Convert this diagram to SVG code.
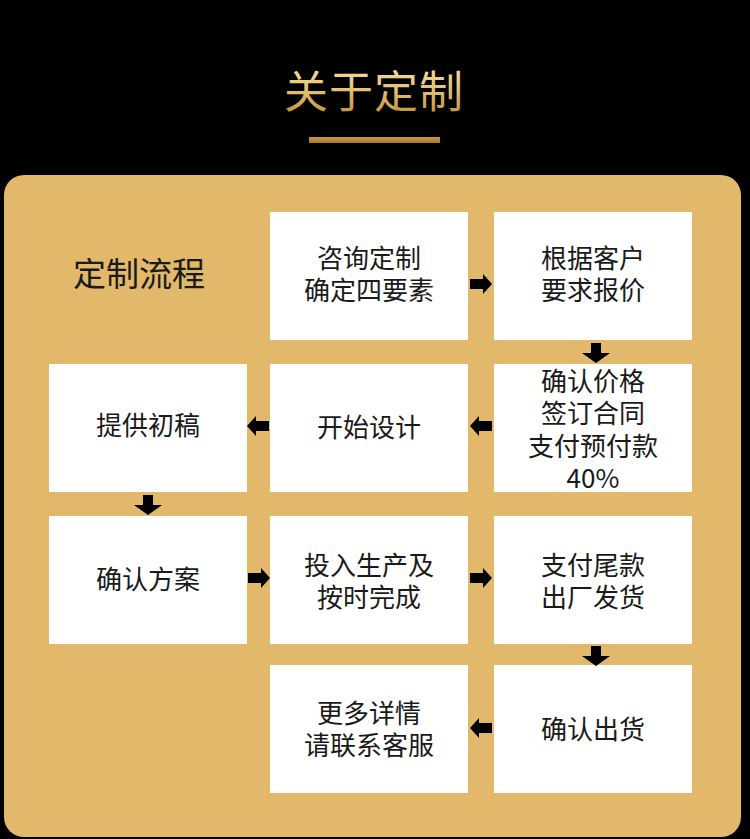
<svg xmlns="http://www.w3.org/2000/svg" width="750" height="839" viewBox="0 0 750 839">
<defs>
<linearGradient id="gold" x1="0" y1="0" x2="0" y2="1">
<stop offset="0" stop-color="#FBEBB4"/>
<stop offset="0.5" stop-color="#E6C274"/>
<stop offset="1" stop-color="#B9862C"/>
</linearGradient>
<linearGradient id="bar" x1="0" y1="0" x2="0" y2="1">
<stop offset="0" stop-color="#C99A3E"/>
<stop offset="1" stop-color="#A9782A"/>
</linearGradient>
<path id="arR" d="M-11,-5 H2 V-10 L11,0 L2,10 V5 H-11 Z" fill="#000"/>
<path id="arD" d="M-5,-10 V0 H-14 L0,10 L14,0 H5 V-10 Z" fill="#000"/>
</defs>
<style>
.box{fill:#FFFFFF}
.t{font-family:"Noto Sans CJK SC","Noto Sans",sans-serif;font-size:26px;fill:#1A1A1A;text-anchor:middle;dominant-baseline:central}
</style>
<rect x="0" y="0" width="750" height="839" fill="#000"/>
<g id="title">
<text x="374" y="89" font-family="'Noto Sans CJK SC',sans-serif" font-size="44" fill="url(#gold)" text-anchor="middle" dominant-baseline="central" letter-spacing="1">关于定制</text>
<rect x="309" y="137" width="131" height="6" fill="url(#bar)"/>
</g>
<rect id="panel" x="4" y="175" width="737" height="662" rx="20" fill="#E2B86A"/>
<g id="heading"><text x="139" y="272" font-family="'Noto Sans CJK SC',sans-serif" font-size="33" fill="#1A1A1A" text-anchor="middle" dominant-baseline="central">定制流程</text></g>

<g id="n1"><rect class="box" x="270" y="212" width="198" height="128"/><text class="t"><tspan x="369" y="256">咨询定制</tspan><tspan x="369" y="288">确定四要素</tspan></text></g>
<g id="n2"><rect class="box" x="494" y="212" width="198" height="128"/><text class="t"><tspan x="593" y="256">根据客户</tspan><tspan x="593" y="288">要求报价</tspan></text></g>
<g id="n3"><rect class="box" x="494" y="364" width="198" height="128"/><text class="t"><tspan x="593" y="379">确认价格</tspan><tspan x="593" y="411">签订合同</tspan><tspan x="593" y="444">支付预付款</tspan><tspan x="593" y="476">40%</tspan></text></g>
<g id="n4"><rect class="box" x="270" y="364" width="198" height="128"/><text class="t" x="369" y="425">开始设计</text></g>
<g id="n5"><rect class="box" x="49" y="364" width="198" height="128"/><text class="t" x="148" y="423">提供初稿</text></g>
<g id="n6"><rect class="box" x="49" y="516" width="198" height="128"/><text class="t" x="148" y="577">确认方案</text></g>
<g id="n7"><rect class="box" x="270" y="516" width="198" height="128"/><text class="t"><tspan x="369" y="563">投入生产及</tspan><tspan x="369" y="595">按时完成</tspan></text></g>
<g id="n8"><rect class="box" x="494" y="516" width="198" height="128"/><text class="t"><tspan x="593" y="563">支付尾款</tspan><tspan x="593" y="595">出厂发货</tspan></text></g>
<g id="n9"><rect class="box" x="494" y="665" width="198" height="128"/><text class="t" x="593" y="727">确认出货</text></g>
<g id="n10"><rect class="box" x="270" y="665" width="198" height="128"/><text class="t"><tspan x="369" y="711">更多详情</tspan><tspan x="369" y="743">请联系客服</tspan></text></g>

<g id="connectors">
<use href="#arR" transform="translate(481,284)"/>
<use href="#arD" transform="translate(596,353)"/>
<use href="#arR" transform="translate(481,426) rotate(180)"/>
<use href="#arR" transform="translate(258,426) rotate(180)"/>
<use href="#arD" transform="translate(148,505)"/>
<use href="#arR" transform="translate(259,578)"/>
<use href="#arR" transform="translate(481,578)"/>
<use href="#arD" transform="translate(596,656)"/>
<use href="#arR" transform="translate(481,728) rotate(180)"/>
</g>
</svg>
